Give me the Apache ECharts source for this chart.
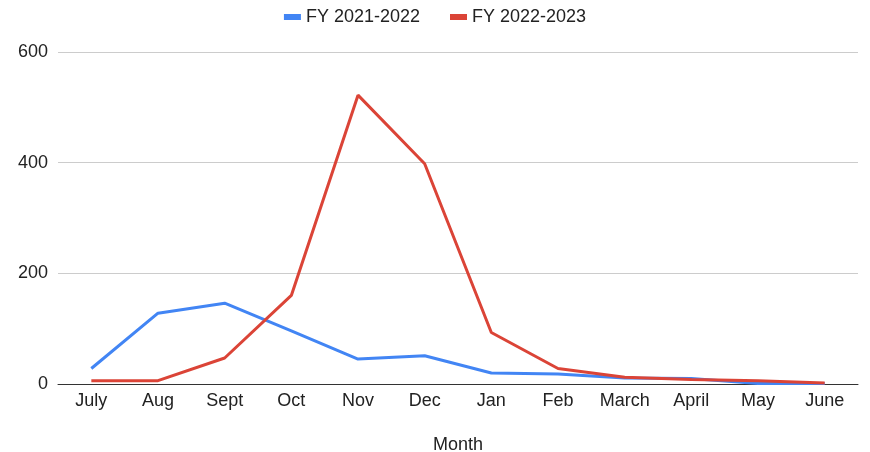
<!DOCTYPE html>
<html><head><meta charset="utf-8">
<script src="https://cdn.jsdelivr.net/npm/echarts@6/dist/echarts.min.js"></script>
<style>html,body{margin:0;padding:0;background:#fff}#c{width:870px;height:452px}</style>
</head><body><div id="c"></div>
<script>
const months = ["July","Aug","Sept","Oct","Nov","Dec","Jan","Feb","March","April","May","June"];
const fy2122 = [28,128,146,96,45,51,20,18,11,10,1,1];
const fy2223 = [6,6,47,160,522,398,93,28,12,8,6,2];
const yTicks = [0,200,400,600];
const chart = echarts.init(document.getElementById('c'));
const font = '"Liberation Sans", Arial, sans-serif';
chart.setOption({
  animation:false,
  textStyle:{fontFamily:font},
  legend:{top:3,left:'center',itemWidth:17,itemHeight:6,itemGap:30,icon:'rect',
    textStyle:{fontSize:18,color:'#222',fontFamily:font},
    data:['FY 2021-2022','FY 2022-2023']},
  grid:{left:58,right:12,top:52,bottom:68,outerBoundsMode:'none',containLabel:false},
  xAxis:{type:'category',data:months,boundaryGap:true,name:'Month',nameLocation:'middle',nameGap:52,
    nameTextStyle:{fontSize:18,color:'#222',fontFamily:font},
    axisLine:{lineStyle:{color:'#333',width:1}},axisTick:{show:false},
    axisLabel:{fontSize:18,color:'#222',margin:8,fontFamily:font}},
  yAxis:{type:'value',min:yTicks[0],max:yTicks[yTicks.length-1],interval:200,
    axisLine:{show:false},axisTick:{show:false},
    splitLine:{lineStyle:{color:'#cccccc'}},
    axisLabel:{fontSize:18,color:'#222',margin:10,fontFamily:font}},
  series:[
    {name:'FY 2021-2022',type:'line',data:fy2122,symbol:'none',lineStyle:{width:3,color:'#4285F4'},itemStyle:{color:'#4285F4'}},
    {name:'FY 2022-2023',type:'line',data:fy2223,symbol:'none',lineStyle:{width:3,color:'#DB4437'},itemStyle:{color:'#DB4437'}}
  ]
});
</script></body></html>
